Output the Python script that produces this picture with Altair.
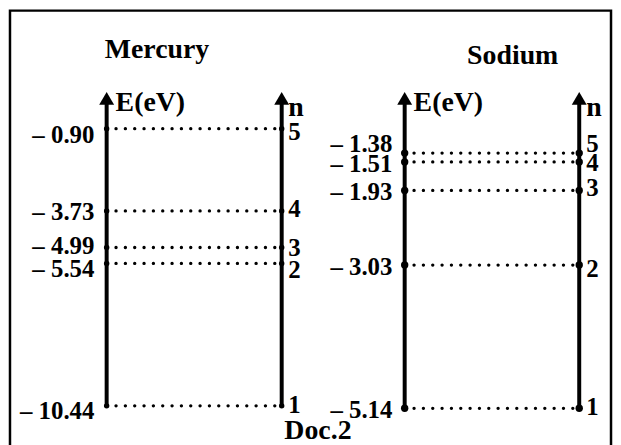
import altair as alt
import pandas as pd

# ---------------- data ----------------
elements = ["Mercury", "Sodium"]
mercury_n = [5, 4, 3, 2, 1]
mercury_E = [-0.90, -3.73, -4.99, -5.54, -10.44]
sodium_n = [5, 4, 3, 2, 1]
sodium_E = [-1.38, -1.51, -1.93, -3.03, -5.14]
axis_titles = ["E(eV)", "n"]
doc_label = ["Doc.2"]

# ---------------- layout / style ----------------
FONT = "Liberation Serif"
W, H = 609, 437
LABEL_SIZE = 25
HEAD_SIZE = 28

layout = {
    "Mercury": dict(xE=99.3, xN=275.5, dom=[-11.738, 3.203], dot=30,
                    xl=87, xr=282, tx=150, ty=49,
                    nudge_l={5: 6, 4: 1, 3: -1, 2: 6, 1: 5},
                    nudge_r={5: 3, 4: -2, 3: 1, 2: 7, 1: -1}),
    "Sodium": dict(xE=399.3, xN=575.0, dom=[-5.660, 0.736], dot=55,
                   xl=387, xr=582, tx=508, ty=55,
                   nudge_l={5: -9, 4: 2, 3: 2, 2: 2, 1: 2},
                   nudge_r={5: -9, 4: 1, 3: -2, 2: 4, 1: -1}),
}


def energy_label(e):
    return "\u2013 " + f"{abs(e):.2f}"


def text_layers(base, nudges, ns, align, **enc):
    out = []
    for off in sorted(set(nudges[n] for n in ns)):
        members = [n for n in ns if nudges[n] == off]
        out.append(
            base.transform_filter(alt.FieldOneOfPredicate(field="n", oneOf=members))
            .mark_text(dy=off, baseline="middle", align=align, font=FONT, fontWeight="bold",
                       fontSize=LABEL_SIZE, color="black")
            .encode(**enc)
        )
    return out


def panel(name, ns, Es):
    L = layout[name]
    df = pd.DataFrame({"n": ns, "E": Es})
    df["label"] = [energy_label(e) for e in Es]
    df["n_label"] = [str(n) for n in ns]
    yenc = alt.Y("E:Q", scale=alt.Scale(domain=L["dom"], nice=False, zero=False), axis=None)
    base = alt.Chart(df)
    ground = base.transform_filter("datum.n == 1")

    layers = []
    # dotted level lines
    layers.append(base.mark_rule(strokeDash=[0.1, 9.3], strokeCap="round",
                                 strokeWidth=3.3, color="black")
                  .encode(x=alt.value(L["xE"]), x2=alt.value(L["xN"]), y=yenc))
    for xv in (L["xE"], L["xN"]):
        # shaft
        layers.append(ground.mark_rule(strokeWidth=4, color="black")
                      .encode(x=alt.value(xv), y=yenc, y2=alt.value(92)))
        # arrow head
        layers.append(ground.mark_point(shape="triangle-up", filled=True, size=225,
                                        color="black", opacity=1)
                      .encode(x=alt.value(xv), y=alt.value(89.5)))
        # level dots
        layers.append(base.mark_point(filled=True, size=L["dot"], color="black", opacity=1)
                      .encode(x=alt.value(xv), y=yenc))
    # energy labels
    layers += text_layers(base, L["nudge_l"], ns, "right",
                          x=alt.value(L["xl"]), y=yenc, text="label:N")
    # n labels
    layers += text_layers(base, L["nudge_r"], ns, "left",
                          x=alt.value(L["xr"]), y=yenc, text="n_label:N")
    # title
    tdf = pd.DataFrame({"t": [name]})
    layers.append(alt.Chart(tdf).mark_text(align="center", baseline="alphabetic", font=FONT,
                                           fontWeight="bold", fontSize=HEAD_SIZE, color="black")
                  .encode(x=alt.value(L["tx"]), y=alt.value(L["ty"]), text="t:N"))
    adf = pd.DataFrame({"t": [axis_titles[0]]})
    layers.append(alt.Chart(adf).mark_text(align="left", baseline="alphabetic", font=FONT,
                                           fontWeight="bold", fontSize=HEAD_SIZE, color="black")
                  .encode(x=alt.value(L["xE"] + 9), y=alt.value(102), text="t:N"))
    ndf = pd.DataFrame({"t": [axis_titles[1]]})
    layers.append(alt.Chart(ndf).mark_text(align="left", baseline="alphabetic", font=FONT,
                                           fontWeight="bold", fontSize=HEAD_SIZE, color="black")
                  .encode(x=alt.value(L["xr"]), y=alt.value(107), text="t:N"))
    return alt.layer(*layers)


merc = panel(elements[0], mercury_n, mercury_E)
sod = panel(elements[1], sodium_n, sodium_E)

frame = alt.Chart(pd.DataFrame({"a": [0]})).mark_rect(
    fillOpacity=0, stroke="black", strokeWidth=2.5
).encode(x=alt.value(2), x2=alt.value(607), y=alt.value(1.2), y2=alt.value(480))

doc = alt.Chart(pd.DataFrame({"t": doc_label})).mark_text(
    align="center", baseline="alphabetic", font=FONT, fontWeight="bold", fontSize=HEAD_SIZE,
    color="black"
).encode(x=alt.value(312), y=alt.value(432), text="t:N")

chart = alt.layer(frame, merc, sod, doc).resolve_scale(y="independent").properties(
    width=W, height=H, padding=0, autosize="none"
).configure_view(stroke=None)

chart.save("out.html", embed_options={"renderer": "svg", "actions": False})
